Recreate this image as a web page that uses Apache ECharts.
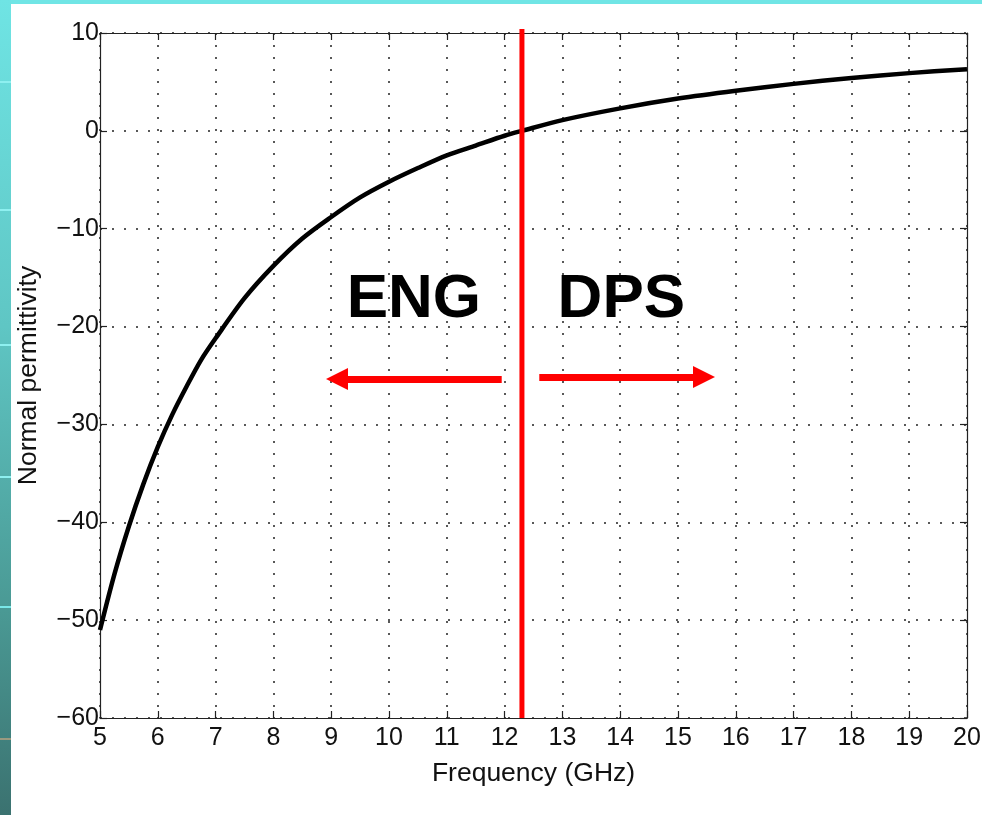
<!DOCTYPE html>
<html>
<head>
<meta charset="utf-8">
<script src="https://cdn.jsdelivr.net/npm/echarts@6/dist/echarts.min.js"></script>
<style>
  html, body { margin: 0; padding: 0; background: #fff; }
  #chart { width: 982px; height: 815px; }
</style>
</head>
<body>
<div id="chart"></div>
<script>
// Normal permittivity of the metamaterial versus frequency
const freqGHz = [5, 5.25, 5.5, 5.75, 6, 6.25, 6.5, 6.75, 7, 7.5, 8, 8.5, 9, 9.5, 10, 10.5, 11, 11.5, 12, 12.3, 13, 14, 15, 16, 17, 18, 19, 20];
const permittivity = [-51, -45.3, -40.4, -36.1, -32.3, -29.0, -26.1, -23.4, -21.2, -17.1, -13.8, -11.0, -8.8, -6.8, -5.2, -3.8, -2.5, -1.5, -0.5, 0, 1.1, 2.3, 3.3, 4.1, 4.8, 5.4, 5.9, 6.3];

// Axis ranges and ticks
const xTicks = [5, 20, 1];
const yTicks = [-60, 10, 10];

// Boundary between the two regions (GHz)
const boundaryFreq = 12.3;
const boundarySpan = [10.4, -60];

// Region labels and their arrows
const regionNames = ['ENG', 'DPS'];
const regionLabelPos = [[10.43, -17.3], [14.02, -17.3]];
const arrowTails = [[11.95, -25.35], [12.6, -25.15]];
const arrowTips = [[9.1, -25.35], [15.45, -25.15]];

const FONT = '"Liberation Sans", Arial, Helvetica, sans-serif';
const fmtMinus = v => String(v).replace('-', '\u2212');

const chart = echarts.init(document.getElementById('chart'), null, { renderer: 'canvas' });

const commonAxis = {
  axisLine: { show: true, onZero: false, lineStyle: { color: '#222', width: 1.2 } },
  axisTick: { show: true, inside: true, length: 7, lineStyle: { color: '#222', width: 1.2 } },
};

const option = {
  backgroundColor: '#ffffff',
  animation: false,
  graphic: [
    { type: 'rect', z: -10, shape: { x: 0, y: 0, width: 982, height: 4 }, style: { fill: '#70e5e5' } },
    {
      type: 'rect', z: -10, shape: { x: 0, y: 0, width: 11, height: 815 },
      style: {
        fill: new echarts.graphic.LinearGradient(0, 0, 0, 1, [
          { offset: 0, color: '#6fe4e4' },
          { offset: 0.4, color: '#5fc6c4' },
          { offset: 0.75, color: '#4a9994' },
          { offset: 1, color: '#3b7270' }
        ])
      }
    },
    { type: 'rect', z: -9, shape: { x: 0, y: 81, width: 11, height: 2 }, style: { fill: '#8ef0f0' } },
    { type: 'rect', z: -9, shape: { x: 0, y: 209, width: 11, height: 2 }, style: { fill: '#8ef0f0' } },
    { type: 'rect', z: -9, shape: { x: 0, y: 344, width: 11, height: 2 }, style: { fill: '#8ef0f0' } },
    { type: 'rect', z: -9, shape: { x: 0, y: 476, width: 11, height: 2 }, style: { fill: '#8ef0f0' } },
    { type: 'rect', z: -9, shape: { x: 0, y: 606, width: 11, height: 2 }, style: { fill: '#7ae8e8' } },
    { type: 'rect', z: -9, shape: { x: 0, y: 738, width: 11, height: 2 }, style: { fill: '#9a9a80' } }
  ],
  grid: { left: 100, right: 15, top: 33, bottom: 97, containLabel: false, outerBoundsMode: 'none', show: false },
  xAxis: [
    Object.assign({}, commonAxis, {
      type: 'value', position: 'bottom',
      min: xTicks[0], max: xTicks[1], interval: xTicks[2],
      name: 'Frequency (GHz)', nameLocation: 'middle', nameGap: 42,
      nameTextStyle: { fontFamily: FONT, fontSize: 26.5, color: '#111' },
      axisLabel: { fontFamily: FONT, fontSize: 25, color: '#111', margin: 8 },
      splitLine: { show: true, lineStyle: { color: '#222', width: 1.5, type: [2, 10] } }
    }),
    Object.assign({}, commonAxis, {
      type: 'value', position: 'top',
      min: xTicks[0], max: xTicks[1], interval: xTicks[2],
      axisLabel: { show: false }, splitLine: { show: false }
    })
  ],
  yAxis: [
    Object.assign({}, commonAxis, {
      type: 'value', position: 'left',
      min: yTicks[0], max: yTicks[1], interval: yTicks[2],
      name: 'Normal permittivity', nameLocation: 'middle', nameGap: 58, nameRotate: 90,
      nameTextStyle: { fontFamily: FONT, fontSize: 26.5, color: '#111' },
      axisLabel: { fontFamily: FONT, fontSize: 25, color: '#111', margin: 1, formatter: fmtMinus },
      splitLine: { show: true, lineStyle: { color: '#222', width: 1.5, type: [2, 10] } }
    }),
    Object.assign({}, commonAxis, {
      type: 'value', position: 'right',
      min: yTicks[0], max: yTicks[1], interval: yTicks[2],
      axisLabel: { show: false }, splitLine: { show: false }
    })
  ],
  series: [
    {
      name: 'Normal permittivity',
      type: 'line',
      data: freqGHz.map((f, i) => [f, permittivity[i]]),
      smooth: 0.3,
      showSymbol: false,
      lineStyle: { color: '#000', width: 4.5 },
      z: 5
    },
    {
      name: 'Boundary',
      type: 'line',
      data: boundarySpan.map(v => [boundaryFreq, v]),
      showSymbol: false,
      clip: false,
      lineStyle: { color: '#ff0000', width: 5 },
      z: 6
    },
    {
      name: 'Regions',
      type: 'scatter',
      data: regionLabelPos.map((p, i) => ({ value: p, name: regionNames[i] })),
      symbolSize: 0,
      itemStyle: { opacity: 1 },
      label: {
        show: true, position: 'inside', formatter: p => p.name,
        fontFamily: FONT, fontSize: 62, fontWeight: 'bold', color: '#000', opacity: 1
      },
      silent: true,
      z: 7,
      markLine: {
        silent: true,
        animation: false,
        symbol: ['none', 'triangle'],
        symbolSize: [22, 22],
        label: { show: false },
        lineStyle: { color: '#ff0000', width: 7, type: 'solid', opacity: 1 },
        data: arrowTails.map((t, i) => [
          { coord: t },
          { coord: arrowTips[i] }
        ])
      }
    }
  ]
};

chart.setOption(option);
</script>
</body>
</html>
